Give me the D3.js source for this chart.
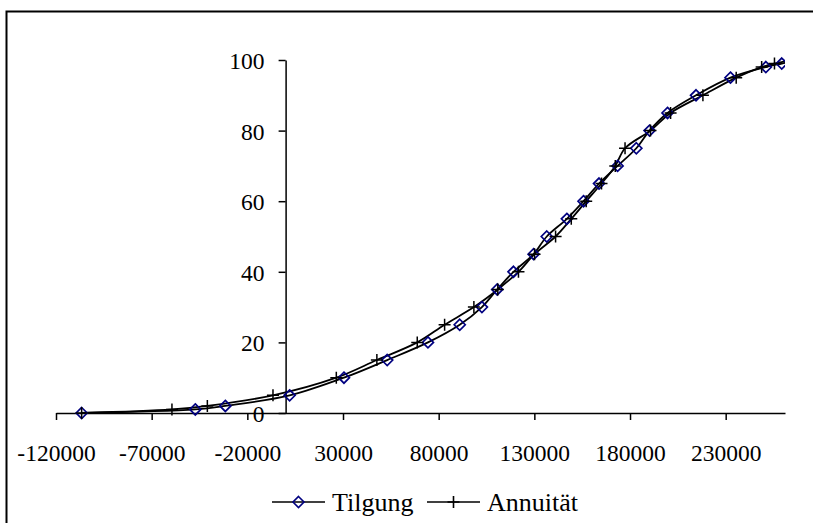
<!DOCTYPE html>
<html>
<head>
<meta charset="utf-8">
<script src="https://cdn.jsdelivr.net/npm/d3@7"></script>
<style>
    body { margin: 0; background: #fff; }
    svg { display: block; font-family: "Liberation Serif", "Times New Roman", serif; }
</style>
</head>
<body>
<svg id="chart" width="813" height="523"></svg>
<script>
// percentiles (y) and the amounts (x) for each series
const percent = [0, 1, 2, 5, 10, 15, 20, 25, 30, 35, 40, 45, 50, 55, 60, 65, 70, 75, 80, 85, 90, 95, 98, 99, 100];
const tilgung = [-106600, -47200, -31500, 2100, 30500, 53100, 74400, 91000, 102600, 110600, 119100, 129600,
    136500, 147000, 155700, 163800, 173500, 183300, 190200, 199600, 214500, 232500, 251000, 259300, 268000];
const annuitaet = [-106600, -59400, -40900, -6600, 26500, 47700, 68800, 83100, 98400, 110900, 121700, 130100,
    141100, 149300, 157100, 165100, 172300, 177400, 190700, 201200, 218100, 235500, 248800, 255500, 265000];
const xTicks = [-120000, -70000, -20000, 30000, 80000, 130000, 180000, 230000];
const yTicks = [0, 20, 40, 60, 80, 100];
const seriesNames = ["Tilgung", "Annuität"];

const svg = d3.select("#chart");
const fontSize = 23.5;
const legendFont = 26;

// chart border
svg.append("rect")
    .attr("x", 6.5).attr("y", 11.5)
    .attr("width", 900).attr("height", 700)
    .attr("fill", "none")
    .attr("stroke", "#000")
    .attr("stroke-width", 2);

const x = d3.scaleLinear().domain([-120000, 261000]).range([56, 785]);
const y = d3.scaleLinear().domain([0, 100]).range([413, 60]);

svg.append("defs").append("clipPath").attr("id", "plot")
    .append("rect")
    .attr("x", x.range()[0] - 8).attr("y", y.range()[1] - 8)
    .attr("width", x.range()[1] - x.range()[0] + 8)
    .attr("height", y.range()[0] - y.range()[1] + 16);

// x axis sits on y = 0, labels use a plain hyphen like the original
const xAxis = svg.append("g")
    .attr("transform", `translate(0,${y(0)})`)
    .call(d3.axisBottom(x).tickValues(xTicks).tickFormat(d => String(d))
        .tickSize(7).tickSizeOuter(0).tickPadding(24));

// y axis sits on x = 0
const yAxis = svg.append("g")
    .attr("transform", `translate(${x(0)},0)`)
    .call(d3.axisLeft(y).tickValues(yTicks).tickSize(7).tickSizeOuter(0).tickPadding(14));

[xAxis, yAxis].forEach(g => {
    g.selectAll("path, line").attr("stroke", "#000").attr("stroke-width", 1.5);
    g.selectAll("text")
        .attr("fill", "#000")
        .style("font-family", "'Liberation Serif', 'Times New Roman', serif")
        .style("font-size", fontSize + "px");
});
yAxis.selectAll("text").attr("dy", "0.36em");

const line = d3.line()
    .x(d => x(d[0]))
    .y(d => y(d[1]))
    .curve(d3.curveCatmullRom.alpha(0.5));

const dataT = tilgung.map((v, i) => [v, percent[i]]);
const dataA = annuitaet.map((v, i) => [v, percent[i]]);

const plot = svg.append("g").attr("clip-path", "url(#plot)");

[dataT, dataA].forEach(d => {
    plot.append("path")
        .datum(d)
        .attr("d", line)
        .attr("fill", "none")
        .attr("stroke", "#000")
        .attr("stroke-width", 1.8);
});

const diamond = "M0,-5.5L5.5,0L0,5.5L-5.5,0Z";
const plus = "M-6,0H6M0,-6V6";

// markers
plot.selectAll(".mt")
    .data(dataT.filter(d => d[0] <= x.domain()[1]))
    .enter().append("path")
    .attr("transform", d => `translate(${x(d[0])},${y(d[1])})`)
    .attr("d", diamond)
    .attr("fill", "none")
    .attr("stroke", "#000080")
    .attr("stroke-width", 1.7);

plot.selectAll(".ma")
    .data(dataA.filter(d => d[0] <= x.domain()[1]))
    .enter().append("path")
    .attr("transform", d => `translate(${x(d[0])},${y(d[1])})`)
    .attr("d", plus)
    .attr("fill", "none")
    .attr("stroke", "#000")
    .attr("stroke-width", 1.5);

// legend
const legendY = 502;
const legendItems = [
    { name: seriesNames[0], x0: 272, shape: diamond, color: "#000080" },
    { name: seriesNames[1], x0: 427, shape: plus, color: "#000" }
];
legendItems.forEach(it => {
    const g = svg.append("g");
    g.append("line")
        .attr("x1", it.x0).attr("x2", it.x0 + 53)
        .attr("y1", legendY).attr("y2", legendY)
        .attr("stroke", "#000").attr("stroke-width", 1.6);
    g.append("path")
        .attr("transform", `translate(${it.x0 + 26.5},${legendY})`)
        .attr("d", it.shape)
        .attr("fill", "none")
        .attr("stroke", it.color)
        .attr("stroke-width", 1.6);
    g.append("text")
        .attr("x", it.x0 + 60)
        .attr("y", legendY)
        .attr("dy", "0.33em")
        .style("font-size", legendFont + "px")
        .text(it.name);
});
</script>
</body>
</html>
